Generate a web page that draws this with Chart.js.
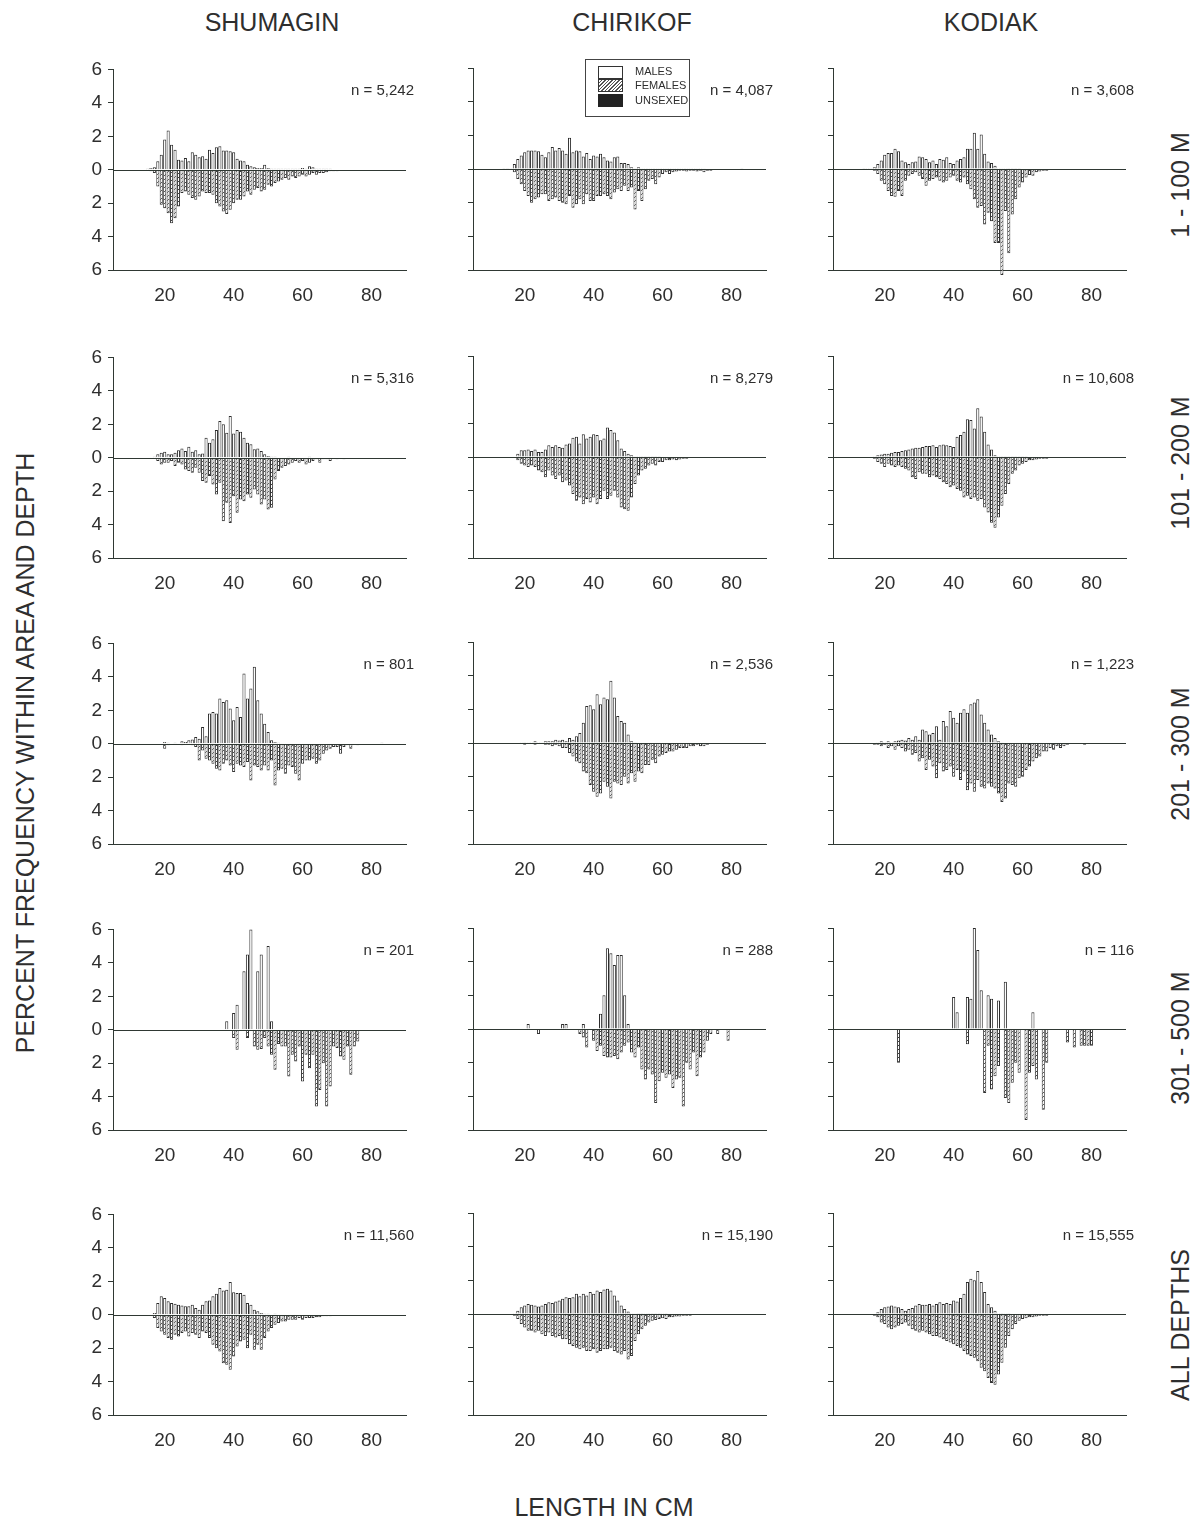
<!DOCTYPE html>
<html><head><meta charset="utf-8">
<script src="https://cdn.jsdelivr.net/npm/chart.js@4.4.1/dist/chart.umd.min.js"></script>
<style>
body{margin:0;background:#fff;width:1197px;height:1523px;position:relative;overflow:hidden;font-family:"Liberation Sans",Arial,Helvetica,sans-serif;color:#2e2e2e;}
canvas{position:absolute;}
.t{position:absolute;white-space:nowrap;transform:translate(-50%,-50%);font-size:25px;line-height:1;}
.rot{transform:translate(-50%,-50%) rotate(-90deg);}
.n{position:absolute;white-space:nowrap;transform:translate(-100%,-50%);font-size:15px;line-height:1;}
.lg{position:absolute;}
.lt{position:absolute;font-size:11px;line-height:1;transform:translateY(-50%);white-space:nowrap;}
</style></head>
<body>
<script>
// ---------------- DATA ----------------
const areas = ["SHUMAGIN", "CHIRIKOF", "KODIAK"];
const depths = ["1 - 100 M", "101 - 200 M", "201 - 300 M", "301 - 500 M", "ALL DEPTHS"];
const xTickValues = [20, 40, 60, 80];
const yTickValues = [-6, -4, -2, 0, 2, 4, 6];
const legendLabels = ["MALES", "FEMALES", "UNSEXED"];
const lengthCm = [14,15,16,17,18,19,
  20,21,22,23,24,25,26,27,28,29,
  30,31,32,33,34,35,36,37,38,39,
  40,41,42,43,44,45,46,47,48,49,
  50,51,52,53,54,55,56,57,58,59,
  60,61,62,63,64,65,66,67,68,69,
  70,71,72,73,74,75,76,77,78,79,
  80,81,82,83,84,85,86];

const sampleSizes = [
  ["n = 5,242", "n = 4,087", "n = 3,608"],
  ["n = 5,316", "n = 8,279", "n = 10,608"],
  ["n = 801", "n = 2,536", "n = 1,223"],
  ["n = 201", "n = 288", "n = 116"],
  ["n = 11,560", "n = 15,190", "n = 15,555"]
];

// percent frequency, lengths 14..86 cm
const shumagin1to100Males = [0.02,0.05,0.1,0.15,0.5,0.9,
 1.8,2.35,1.5,1.2,0.6,0.55,0.7,0.5,1.05,0.9,
 0.75,0.8,0.65,1.2,1.0,1.35,1.4,1.15,1.15,1.1,
 1.05,0.65,0.55,0.5,0.3,0.2,0.15,0.1,0.1,0.3,
 0.1,0.05,0.05,0.05,0.05,0.05,0.05,0.05,0.05,0.05,
 0.1,0.05,0.2,0.15,0.05,0.05,0.05,0.05,0.05,0,
 0,0,0,0,0,0,0,0,0,0,
 0,0,0,0,0,0,0];
const shumagin1to100Females = [0.02,0.05,0.1,0.2,1.0,2.1,
 2.3,2.6,3.2,2.9,2.2,1.4,1.3,1.5,1.7,1.8,
 1.6,1.3,1.4,1.4,1.5,2.0,2.2,2.5,2.65,2.4,
 2.0,1.8,1.8,1.6,1.3,1.5,1.2,1.1,1.3,1.2,
 0.9,1.0,0.8,0.7,0.6,0.5,0.6,0.4,0.5,0.4,
 0.3,0.4,0.3,0.2,0.3,0.2,0.2,0.15,0.1,0.1,
 0.1,0.05,0.05,0.05,0.05,0,0,0,0,0,
 0,0,0,0,0,0,0];
const chirikof1to100Males = [0.02,0.02,0.05,0.3,0.6,0.8,
 1.0,1.1,1.1,1.1,1.05,0.85,0.7,1.0,1.3,1.1,
 1.25,1.1,0.9,1.85,1.0,1.1,1.05,0.75,0.95,0.6,
 0.8,0.75,0.9,0.7,0.5,0.45,0.7,0.75,0.35,0.35,
 0.3,0.1,0.05,0.1,0.05,0.05,0.05,0.05,0.05,0.05,
 0.05,0.05,0.05,0.05,0.05,0.05,0.05,0.05,0.05,0.05,
 0.05,0.05,0.05,0,0,0,0,0,0,0,
 0,0,0,0.02,0,0,0];
const chirikof1to100Females = [0.02,0.02,0.05,0.2,0.6,0.9,
 1.3,1.6,2.0,1.8,1.7,1.5,1.5,1.9,1.8,1.7,
 1.9,2.0,2.1,1.6,2.3,2.1,1.8,2.1,1.5,1.9,
 1.9,1.6,1.6,1.5,1.6,1.8,1.4,1.2,1.3,1.0,
 1.3,1.1,2.4,1.3,1.9,1.2,0.7,0.6,0.9,0.5,
 0.3,0.2,0.3,0.2,0.15,0.1,0.1,0.15,0.1,0.1,
 0.15,0.1,0.2,0.1,0.1,0.05,0.05,0.05,0.05,0,
 0,0,0,0,0,0,0];
const kodiak1to100Males = [0.02,0.05,0.05,0.1,0.3,0.5,
 0.85,0.95,0.95,1.2,1.05,0.5,0.4,0.3,0.4,0.45,
 0.75,0.7,0.6,0.4,0.5,0.3,0.6,0.55,0.7,0.35,
 0.3,0.5,0.6,0.7,1.2,1.2,2.15,1.2,2.05,0.9,
 0.45,0.35,0.2,0.05,0.05,0.05,0.02,0.02,0.02,0.02,
 0,0,0,0,0,0,0,0,0,0,
 0,0,0,0,0,0,0,0,0,0,
 0,0,0,0,0,0,0];
const kodiak1to100Females = [0.02,0.02,0.05,0.1,0.3,0.7,
 0.9,1.3,1.6,1.65,1.3,1.6,0.7,0.4,0.3,0.2,
 0.4,0.6,1.0,0.7,0.6,0.5,0.7,0.8,0.7,0.5,
 0.4,0.7,0.8,0.5,0.9,1.2,1.8,2.3,2.2,3.3,
 2.6,3.1,4.4,4.4,6.3,2.5,5.0,2.7,1.8,1.1,
 0.8,0.5,0.35,0.4,0.2,0.15,0.1,0.1,0.05,0.05,
 0.05,0.05,0.05,0.05,0.05,0,0,0,0,0,
 0,0,0,0,0,0,0];

const shumagin101to200Males = [0,0,0,0.05,0.2,0.3,
 0.35,0.2,0.2,0.3,0.45,0.55,0.4,0.65,0.35,0.45,
 0.2,0.25,1.2,0.9,1.1,1.65,2.2,2.0,1.5,2.5,
 1.45,1.65,1.55,1.2,0.9,0.8,0.5,0.55,0.4,0.2,
 0.1,0.05,0.05,0.02,0.02,0.02,0.05,0.02,0.02,0.02,
 0.02,0.02,0.05,0.02,0,0,0,0,0,0,
 0,0,0,0,0,0,0,0,0,0,
 0,0,0,0,0,0,0];
const shumagin101to200Females = [0,0,0,0.05,0.2,0.4,
 0.3,0.3,0.2,0.5,0.3,0.4,0.7,0.8,0.9,0.6,
 0.9,1.4,1.5,1.1,1.6,2.2,1.5,3.8,2.7,3.9,
 2.3,3.3,2.5,2.6,2.2,2.4,1.9,2.2,2.8,2.5,
 3.1,3.0,1.3,0.8,0.6,0.5,0.4,0.3,0.2,0.3,
 0.2,0.4,0.3,0.2,0.1,0.3,0.1,0.1,0.2,0.05,
 0.1,0.05,0.1,0.05,0.05,0.05,0.02,0.02,0.05,0.02,
 0.05,0,0,0,0,0,0];
const chirikof101to200Males = [0,0,0,0,0.2,0.4,
 0.4,0.45,0.35,0.45,0.3,0.3,0.45,0.7,0.6,0.7,
 0.6,0.55,0.75,0.8,1.15,1.2,0.8,1.35,1.1,1.2,
 1.35,1.3,1.0,1.1,1.75,1.6,1.45,1.0,0.5,0.35,
 0.2,0.1,0.05,0.05,0.02,0.02,0.02,0.02,0.02,0.02,
 0,0,0,0,0,0,0,0,0,0,
 0,0,0,0,0,0,0,0,0,0,
 0,0,0,0,0,0,0];
const chirikof101to200Females = [0,0,0,0,0.2,0.4,
 0.5,0.6,0.5,0.6,0.8,0.9,1.2,0.8,1.1,1.3,
 1.1,1.5,1.4,1.7,2.2,2.6,2.4,2.8,2.5,2.7,
 2.4,2.8,2.5,2.0,2.5,2.3,2.0,2.4,3.0,3.1,
 3.2,2.4,1.6,1.1,0.8,0.7,0.5,0.4,0.5,0.3,
 0.3,0.2,0.2,0.15,0.2,0.15,0.1,0.1,0.05,0.05,
 0.05,0.05,0.05,0.02,0.02,0.02,0.02,0,0,0,
 0,0,0,0,0,0,0];
const kodiak101to200Males = [0,0,0,0.05,0.1,0.15,
 0.2,0.2,0.25,0.3,0.3,0.35,0.4,0.45,0.5,0.55,
 0.55,0.6,0.65,0.65,0.7,0.6,0.7,0.75,0.7,0.65,
 0.6,1.2,1.3,1.5,2.25,2.2,1.7,2.9,2.4,1.5,
 0.75,0.45,0.1,0.05,0.02,0.02,0.02,0.02,0.02,0.02,
 0.02,0.02,0,0,0,0,0,0,0,0,
 0,0,0,0,0,0,0,0,0,0,
 0,0,0,0,0,0,0];
const kodiak101to200Females = [0,0,0,0.1,0.3,0.4,
 0.6,0.4,0.5,0.6,0.5,0.6,0.7,0.8,1.2,1.3,
 0.9,1.0,1.0,1.2,1.1,1.2,1.3,1.5,1.6,1.8,
 1.7,1.9,2.0,2.4,2.3,2.5,2.4,2.6,2.5,3.0,
 3.3,3.9,4.2,3.6,2.9,2.2,1.6,1.0,0.8,0.5,
 0.4,0.3,0.2,0.2,0.15,0.1,0.1,0.1,0.05,0.05,
 0.05,0.02,0.02,0.02,0,0,0,0,0,0,
 0,0,0,0,0,0,0];

const shumagin201to300Males = [0,0,0,0,0,0,
 0.1,0.05,0,0.05,0,0.15,0.1,0.2,0.25,0.4,
 0.3,1.0,0.45,1.8,1.9,1.8,2.7,2.5,2.6,2.1,
 1.4,2.2,1.6,4.2,2.7,3.3,4.6,2.6,1.8,1.2,
 0.7,0.2,0.1,0.05,0,0,0,0,0,0,
 0,0,0,0,0,0,0,0,0,0,
 0,0,0,0,0,0,0,0,0,0,
 0,0,0,0.05,0,0,0];
const shumagin201to300Females = [0,0,0,0,0,0.05,
 0.3,0.1,0,0,0,0.1,0,0,0.1,0.2,
 1.0,0.4,0.9,1.0,1.2,1.5,1.6,1.2,1.0,1.3,
 1.7,1.2,1.3,1.4,1.1,2.2,1.3,1.4,1.6,1.3,
 1.6,1.0,2.5,1.6,1.5,1.8,1.3,1.4,1.8,2.2,
 1.2,1.0,1.0,0.9,1.2,1.0,0.6,0.4,0.3,0.2,
 0.2,0.6,0.2,0.1,0.3,0.05,0.1,0,0,0,
 0,0,0,0.05,0,0,0.05];
const chirikof201to300Males = [0,0,0,0,0,0.05,
 0.02,0.05,0.05,0.1,0.05,0.05,0.1,0.1,0.1,0.2,
 0.15,0.2,0.1,0.3,0.2,0.4,0.6,1.2,2.2,2.25,
 2.0,2.9,2.3,2.7,2.6,3.7,2.7,1.6,1.3,1.2,
 0.5,0.1,0.05,0,0,0,0,0,0,0,
 0,0,0,0,0,0,0,0,0,0,
 0,0,0,0,0,0,0,0,0,0,
 0,0,0,0,0,0,0];
const chirikof201to300Females = [0,0,0,0,0,0,
 0.1,0.05,0.05,0.1,0.05,0.05,0.1,0.1,0.2,0.1,
 0.2,0.3,0.3,0.6,0.8,1.1,1.2,1.7,1.8,2.5,
 2.9,3.2,3.0,2.3,2.6,3.3,2.3,2.4,2.5,2.0,
 2.4,1.8,2.3,1.7,1.8,1.3,1.3,1.0,1.2,0.8,
 0.7,0.6,0.5,0.5,0.4,0.3,0.3,0.3,0.2,0.2,
 0.1,0.2,0.2,0.1,0.05,0,0.05,0,0,0,
 0,0,0,0,0,0,0];
const kodiak201to300Males = [0,0,0,0,0.05,0.1,
 0.05,0.1,0.05,0.1,0.15,0.2,0.15,0.3,0.2,0.4,
 0.2,0.8,0.7,0.5,0.6,1.0,0.2,1.3,1.0,1.9,
 1.5,1.2,1.8,2.0,1.8,2.3,2.4,2.6,1.7,1.2,
 0.8,0.5,0.3,0.1,0.05,0,0,0,0,0,
 0,0,0,0,0,0,0,0,0,0,
 0,0,0,0,0,0,0,0,0,0,
 0,0,0,0,0,0,0];
const kodiak201to300Females = [0,0,0,0.1,0.1,0.2,
 0.1,0.3,0.2,0.4,0.2,0.3,0.5,0.4,0.7,0.6,
 1.1,0.9,1.6,1.0,1.4,2.1,1.2,1.7,1.6,1.4,
 2.0,1.6,2.2,1.7,2.8,2.4,2.9,2.2,2.6,2.7,
 2.4,2.6,2.7,3.0,3.5,3.3,2.4,2.5,2.6,2.1,
 2.0,1.6,1.4,1.1,0.9,0.8,0.5,0.5,0.3,0.4,
 0.2,0.3,0.2,0.1,0.05,0,0.05,0,0.1,0,
 0,0,0,0,0,0,0];

const shumagin301to500Males = [0,0,0,0,0,0,
 0,0,0,0,0,0,0,0,0,0,
 0,0,0,0,0,0,0,0,0.5,0,
 1.0,1.5,0,3.5,4.5,6.0,0,3.5,4.5,0,
 5.0,0.5,0,0,0,0,0,0,0,0,
 0,0,0,0,0,0,0,0,0,0,
 0,0,0,0,0,0,0,0,0,0,
 0,0,0,0,0,0,0];
const shumagin301to500Females = [0,0,0,0,0,0,
 0,0,0,0,0,0,0,0,0,0,
 0,0,0,0,0,0,0,0,0,0,
 0.5,1.2,0,0,0.5,0,1.0,1.2,1.15,0.5,
 1.0,1.5,2.4,0.85,1.0,1.0,2.8,1.5,1.9,1.0,
 3.1,1.5,2.3,1.5,4.6,3.6,2.0,4.6,3.4,1.0,
 1.1,1.6,1.8,1.0,2.7,1.0,0.7,0,0,0,
 0,0,0,0,0,0,0];
const chirikof301to500Males = [0,0,0,0,0,0,
 0,0.3,0,0,0,0,0,0,0,0,
 0,0.3,0.3,0,0,0,0,0.3,0,0,
 0,0,0.9,2.0,4.8,4.5,3.8,4.4,4.4,2.0,
 0.3,0,0,0,0,0,0,0,0,0,
 0,0,0,0,0,0,0,0,0,0,
 0,0,0,0,0,0,0,0,0,0,
 0,0,0,0,0,0,0];
const chirikof301to500Females = [0,0,0,0,0,0,
 0,0,0,0,0.3,0,0,0,0,0,
 0,0,0,0,0,0,0.3,0.5,1.1,0,
 0.7,1.3,1.0,1.6,1.7,1.7,1.6,1.8,1.4,1.0,
 0.8,1.4,1.7,1.1,2.4,3.0,2.4,2.7,4.4,3.1,
 2.6,2.9,2.7,3.5,3.0,2.9,4.6,2.0,2.4,1.4,
 2.8,1.7,1.4,0.7,0.3,0,0.3,0,0,0.7,
 0,0,0,0,0,0,0];
const kodiak301to500Males = [0,0,0,0,0,0,
 0,0,0,0,0,0,0,0,0,0,
 0,0,0,0,0,0,0,0,0,0,
 1.9,1.0,0,0,1.9,1.8,6.0,4.7,2.3,0,
 2.0,1.8,0,1.7,0,2.8,0,0,0,0,
 0,0,0,1.0,0,0,0,0,0,0,
 0,0,0,0,0,0,0,0,0,0,
 0,0,0,0,0,0,0];
const kodiak301to500Females = [0,0,0,0,0,0,
 0,0,0,0,2.0,0,0,0,0,0,
 0,0,0,0,0,0,0,0,0,0,
 0,0,0,0,0.9,0,0,0,0,3.8,
 1.0,3.6,2.8,2.2,0,4.1,4.4,3.2,2.0,2.6,
 0,5.4,2.6,2.2,3.0,0,4.8,2.0,0,0,
 0,0,0,0.8,0,1.1,0,1.0,1.0,1.0,
 1.0,0,0,0,0,0,0];

const shumaginAllMales = [0,0,0,0.1,0.7,1.1,
 1.0,0.8,0.7,0.65,0.6,0.55,0.5,0.5,0.6,0.4,
 0.3,0.6,0.8,0.85,1.1,1.25,1.6,1.45,1.5,1.95,
 1.35,1.3,1.3,1.2,0.7,0.6,0.3,0.2,0.1,0.05,
 0.05,0.02,0.05,0.02,0.02,0.02,0.02,0.02,0.02,0.02,
 0.02,0.02,0.02,0.02,0,0,0,0,0,0,
 0,0,0,0,0,0,0,0,0,0,
 0,0,0,0,0,0,0];
const shumaginAllFemales = [0,0,0,0.2,0.8,1.0,
 1.2,1.4,1.5,1.2,1.3,1.1,1.0,1.3,1.1,1.2,
 1.4,1.0,1.1,1.4,1.8,2.0,2.2,2.9,3.0,3.3,
 2.5,1.9,1.6,1.5,2.0,1.2,2.1,1.8,2.1,1.4,
 1.0,0.8,0.6,0.5,0.4,0.4,0.3,0.3,0.3,0.2,
 0.3,0.2,0.2,0.2,0.15,0.15,0.1,0.1,0.1,0.05,
 0.05,0,0.05,0,0.02,0,0,0,0,0,
 0,0,0,0,0,0,0];
const chirikofAllMales = [0,0,0,0.05,0.2,0.4,
 0.5,0.6,0.55,0.5,0.45,0.5,0.6,0.7,0.65,0.75,
 0.8,0.9,1.0,0.95,1.0,1.2,1.05,1.2,1.1,1.3,
 1.2,1.4,1.3,1.45,1.5,1.4,1.1,0.8,0.5,0.3,
 0.15,0.05,0.05,0.02,0.02,0.05,0.02,0.02,0.02,0.02,
 0.05,0.02,0,0,0,0,0,0,0,0,
 0,0,0,0,0,0,0,0,0,0,
 0,0,0,0,0,0,0];
const chirikofAllFemales = [0,0,0,0.1,0.3,0.6,
 0.8,1.0,1.0,1.1,1.0,1.2,1.3,1.1,1.3,1.4,
 1.3,1.5,1.5,1.8,1.9,2.0,2.1,2.0,2.2,2.2,
 2.1,2.3,2.2,2.1,2.1,2.0,2.2,2.3,2.4,2.2,
 2.7,2.5,1.6,1.2,0.9,0.7,0.5,0.4,0.35,0.3,
 0.25,0.3,0.2,0.2,0.15,0.15,0.1,0.1,0.1,0.05,
 0.05,0.02,0.05,0.02,0.02,0,0,0,0,0,
 0,0,0,0,0,0,0];
const kodiakAllMales = [0,0,0,0,0.1,0.3,
 0.4,0.45,0.5,0.45,0.4,0.3,0.2,0.3,0.35,0.5,
 0.6,0.55,0.55,0.6,0.5,0.6,0.7,0.6,0.65,0.6,
 0.8,0.75,0.95,1.2,1.9,2.1,2.0,2.55,1.9,1.3,
 0.6,0.4,0.2,0.05,0.02,0.05,0.02,0,0,0,
 0,0,0,0,0,0,0,0,0,0,
 0,0,0,0,0,0,0,0,0,0,
 0,0,0,0,0,0,0];
const kodiakAllFemales = [0,0,0,0.1,0.2,0.5,
 0.6,0.8,0.9,0.8,0.7,0.6,0.5,0.7,0.9,1.0,
 1.1,1.0,1.1,1.2,1.3,1.3,1.4,1.5,1.6,1.7,
 1.8,1.9,2.0,2.2,2.4,2.5,2.6,2.8,3.2,3.4,
 3.8,4.1,4.2,3.6,2.9,2.0,1.3,0.9,0.6,0.4,
 0.3,0.25,0.2,0.2,0.15,0.1,0.1,0.1,0.05,0.05,
 0.05,0,0.05,0,0,0,0,0,0,0,
 0,0,0,0,0,0,0];

const malesGrid = [
  [shumagin1to100Males, chirikof1to100Males, kodiak1to100Males],
  [shumagin101to200Males, chirikof101to200Males, kodiak101to200Males],
  [shumagin201to300Males, chirikof201to300Males, kodiak201to300Males],
  [shumagin301to500Males, chirikof301to500Males, kodiak301to500Males],
  [shumaginAllMales, chirikofAllMales, kodiakAllMales]
];
const femalesGrid = [
  [shumagin1to100Females, chirikof1to100Females, kodiak1to100Females],
  [shumagin101to200Females, chirikof101to200Females, kodiak101to200Females],
  [shumagin201to300Females, chirikof201to300Females, kodiak201to300Females],
  [shumagin301to500Females, chirikof301to500Females, kodiak301to500Females],
  [shumaginAllFemales, chirikofAllFemales, kodiakAllFemales]
];

// ---------------- LAYOUT ----------------
const AXIS = '#2f3833';
const INK = '#2e2e2e';
const colAxisX = [113, 473, 833];
const rowZeroY = [169, 457, 743, 1029, 1314];
const HALF = 101;           // pixels from 0 to 6
const PLOT_W = 293;         // 5..90 cm
const LEFT_W = 45, TOP_PAD = 16, RIGHT_PAD = 14, BOTTOM_H = 40;
const nRight = [414, 773, 1134];

Chart.defaults.font.family = '"Liberation Sans", Arial, Helvetica, sans-serif';
Chart.defaults.color = INK;

function addText(txt, x, y, cls, extra) {
  const d = document.createElement('div');
  d.className = cls;
  d.textContent = txt;
  d.style.left = x + 'px';
  d.style.top = y + 'px';
  if (extra) Object.assign(d.style, extra);
  document.body.appendChild(d);
  return d;
}

// hatch pattern
const patCanvas = document.createElement('canvas');
patCanvas.width = 4; patCanvas.height = 4;
const pg = patCanvas.getContext('2d');
pg.fillStyle = '#ffffff'; pg.fillRect(0, 0, 4, 4);
pg.strokeStyle = '#3a3a3a'; pg.lineWidth = 1;
pg.beginPath(); pg.moveTo(-1, 5); pg.lineTo(5, -1); pg.stroke();
const hatch = pg.createPattern(patCanvas, 'repeat');

const zeroLine = {
  id: 'zeroLine',
  afterDatasetsDraw(chart) {
    const { ctx, chartArea: a, scales: { y } } = chart;
    const py = Math.round(y.getPixelForValue(0)) + 0.5;
    ctx.save();
    ctx.strokeStyle = AXIS; ctx.lineWidth = 1;
    ctx.beginPath(); ctx.moveTo(a.left, py); ctx.lineTo(a.right, py); ctx.stroke();
    ctx.restore();
  }
};

function makePanel(r, c) {
  const cv = document.createElement('canvas');
  const W = LEFT_W + PLOT_W + RIGHT_PAD, H = TOP_PAD + 2 * HALF + BOTTOM_H;
  cv.width = W; cv.height = H;
  cv.style.left = (colAxisX[c] - LEFT_W) + 'px';
  cv.style.top = (rowZeroY[r] - HALF - TOP_PAD) + 'px';
  cv.style.width = W + 'px'; cv.style.height = H + 'px';
  document.body.appendChild(cv);
  const males = malesGrid[r][c], females = femalesGrid[r][c];
  new Chart(cv, {
    type: 'bar',
    data: {
      datasets: [
        { label: legendLabels[0], data: lengthCm.map((x, i) => ({ x, y: males[i] })),
          backgroundColor: '#ffffff', borderColor: '#2a2a2a', borderWidth: 1, grouped: false,
          barPercentage: 0.9, categoryPercentage: 1, clip: false },
        { label: legendLabels[1], data: lengthCm.map((x, i) => ({ x, y: -females[i] })),
          backgroundColor: hatch, borderColor: '#333', borderWidth: 1, grouped: false,
          barPercentage: 0.9, categoryPercentage: 1, clip: false }
      ]
    },
    options: {
      responsive: false, animation: false, devicePixelRatio: 1,
      layout: { padding: { left: 0, top: TOP_PAD, right: RIGHT_PAD, bottom: 0 } },
      plugins: { legend: { display: false }, tooltip: { enabled: false } },
      scales: {
        x: {
          type: 'linear', min: 5, max: 90, offset: false,
          afterBuildTicks: s => { s.ticks = xTickValues.map(v => ({ value: v })); },
          afterFit: s => { s.height = BOTTOM_H; },
          ticks: { font: { size: 19 }, color: INK, padding: 14, autoSkip: false, maxRotation: 0 },
          grid: { drawOnChartArea: false, drawTicks: false },
          border: { display: true, color: AXIS, width: 1 }
        },
        y: {
          min: -6, max: 6,
          afterBuildTicks: s => { s.ticks = yTickValues.map(v => ({ value: v })); },
          afterFit: s => { s.width = LEFT_W; },
          ticks: { display: c === 0, font: { size: 19 }, color: INK, padding: 6,
                   callback: v => Math.abs(v) },
          grid: { drawOnChartArea: false, drawTicks: true, tickLength: 5, color: AXIS },
          border: { display: true, color: AXIS, width: 1 }
        }
      }
    },
    plugins: [zeroLine]
  });
  addText(sampleSizes[r][c], nRight[c], rowZeroY[r] - 80, 'n');
}

for (let r = 0; r < 5; r++) for (let c = 0; c < 3; c++) makePanel(r, c);

// titles
const colTitleX = [272, 632, 991];
areas.forEach((a, i) => addText(a, colTitleX[i], 22, 't'));
const rowLabelY = [185, 463, 754, 1038, 1325];
depths.forEach((d, i) => addText(d, 1180, rowLabelY[i], 't rot'));
addText('PERCENT FREQUENCY WITHIN AREA AND DEPTH', 25, 753, 't rot');
addText('LENGTH IN CM', 604, 1507, 't');

// legend (Chirikof 1-100 panel)
function box(l, t, w, h, st) {
  const d = document.createElement('div'); d.className = 'lg';
  Object.assign(d.style, { left: l + 'px', top: t + 'px', width: w + 'px', height: h + 'px' }, st);
  document.body.appendChild(d);
}
box(585, 59, 103, 56, { border: '1px solid #444', background: '#fff' });
box(598, 66, 23, 11, { border: '1px solid #333', background: '#fff' });
box(598, 79, 23, 11, { border: '1px solid #333',
  background: 'repeating-linear-gradient(135deg,#fff 0 1.5px,#555 1.5px 2.5px)' });
box(598, 94, 25, 13, { background: '#222' });
addText(legendLabels[0], 635, 71, 'lt');
addText(legendLabels[1], 635, 85, 'lt');
addText(legendLabels[2], 635, 100, 'lt');
</script>
</body></html>
